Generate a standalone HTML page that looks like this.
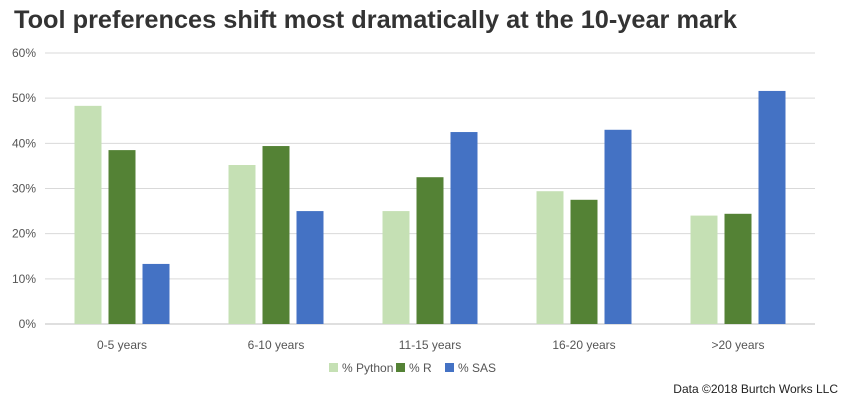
<!DOCTYPE html>
<html><head><meta charset="utf-8"><style>
body{margin:0;background:#fff;font-family:"Liberation Sans",sans-serif;}
</style></head><body>
<svg width="845" height="400" xmlns="http://www.w3.org/2000/svg" font-family="Liberation Sans, sans-serif">
<rect width="845" height="400" fill="#fff"/>
<text x="14" y="28" font-size="25" font-weight="bold" fill="#333" textLength="723" lengthAdjust="spacingAndGlyphs">Tool preferences shift most dramatically at the 10-year mark</text>
<g id="grid"></g><g id="bars"></g><g id="xlabels"></g>
<g font-size="12" fill="#555">
<rect x="329" y="363" width="9" height="9" fill="#c5e0b4"/>
<text x="342" y="372">% Python</text>
<rect x="396" y="363" width="9" height="9" fill="#548235"/>
<text x="409" y="372">% R</text>
<rect x="445" y="363" width="9" height="9" fill="#4472c4"/>
<text x="458" y="372">% SAS</text>
</g>
<text x="838" y="393" font-size="12" text-anchor="end" fill="#222">Data ©2018 Burtch Works LLC</text>
</svg>
<script>
const categories=["0-5 years","6-10 years","11-15 years","16-20 years",">20 years"];
const python=[48.3,35.2,25.0,29.4,24.0];
const rVals=[38.5,39.4,32.5,27.5,24.4];
const sas=[13.3,25.0,42.5,43.0,51.6];
const yTicks=[0,10,20,30,40,50,60];
const NS="http://www.w3.org/2000/svg";
const x0=45,x1=815,yBase=324,yTop=53,yMax=60;
const y=v=>yBase-(v/yMax)*(yBase-yTop);
const band=(x1-x0)/categories.length;
const grid=document.getElementById('grid');
yTicks.forEach(t=>{
 const l=document.createElementNS(NS,'line');
 l.setAttribute('x1',x0);l.setAttribute('x2',x1);l.setAttribute('y1',y(t));l.setAttribute('y2',y(t));
 l.setAttribute('stroke',t===0?'#bfbfbf':'#d9d9d9');l.setAttribute('stroke-width','1');
 
 
 grid.appendChild(l);
 const tx=document.createElementNS(NS,'text');
 tx.setAttribute('x',36);tx.setAttribute('y',y(t)+4);tx.setAttribute('text-anchor','end');
 tx.setAttribute('font-size','12');tx.setAttribute('fill','#555');tx.textContent=t+'%';
 
 
 grid.appendChild(tx);
});
const series=[[python,'#c5e0b4','python'],[rVals,'#548235','r'],[sas,'#4472c4','sas']];
const bw=27,gap=7,bars=document.getElementById('bars'),xl=document.getElementById('xlabels');
categories.forEach((c,i)=>{
 const cx=x0+band*(i+0.5);
 series.forEach((s,j)=>{
  const r=document.createElementNS(NS,'rect');
  const bx=cx-bw*1.5-gap+j*(bw+gap);
  r.setAttribute('x',bx);r.setAttribute('width',bw);
  r.setAttribute('y',y(s[0][i]));r.setAttribute('height',yBase-y(s[0][i]));
  r.setAttribute('fill',s[1]);
  
  
  bars.appendChild(r);
 });
 const t=document.createElementNS(NS,'text');
 t.setAttribute('x',cx);t.setAttribute('y',349);t.setAttribute('text-anchor','middle');
 t.setAttribute('font-size','12');t.setAttribute('fill','#555');t.textContent=c;
 
 
 xl.appendChild(t);
});
</script>
</body></html>
